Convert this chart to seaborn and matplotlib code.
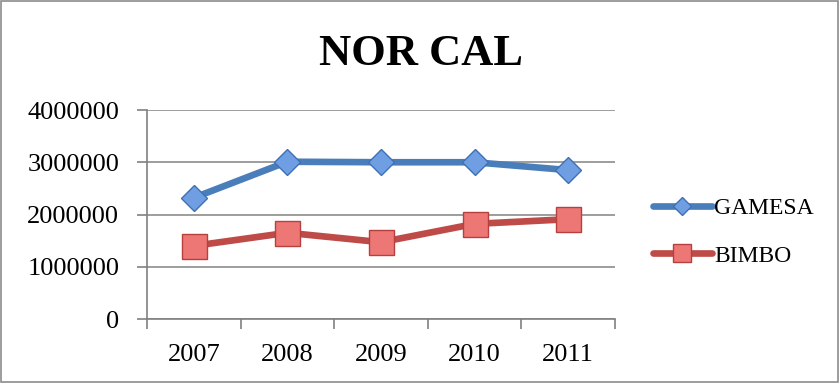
import matplotlib
matplotlib.use("Agg")
import matplotlib.pyplot as plt
import seaborn as sns
import pandas as pd
import numpy as np
from matplotlib.patches import Rectangle
from matplotlib.lines import Line2D
from matplotlib.ticker import FixedLocator

years = ["2007", "2008", "2009", "2010", "2011"]
gamesa = [2320000, 3010000, 3000000, 3000000, 2850000]
bimbo = [1400000, 1650000, 1470000, 1820000, 1910000]
series_names = ["GAMESA", "BIMBO"]
yticks = [0, 1000000, 2000000, 3000000, 4000000]

sns.set_theme(style="white")
plt.rcParams['font.family'] = ['Liberation Serif', 'DejaVu Serif']
plt.rcParams['text.color'] = 'black'
plt.rcParams['xtick.color'] = 'black'
plt.rcParams['ytick.color'] = 'black'

df = pd.DataFrame({
    "x": list(range(len(years))) * 2,
    "value": gamesa + bimbo,
    "series": [series_names[0]] * len(years) + [series_names[1]] * len(years),
})

fig = plt.figure(figsize=(8.4, 3.83), dpi=100)
ax = fig.add_axes([147/840, 1 - 319/383, (615-147)/840, (319-110)/383])

line_colors = {"GAMESA": "#4A7EBB", "BIMBO": "#BE4B48"}
sns.lineplot(data=df, x="x", y="value", hue="series", palette=line_colors,
             linewidth=4.8, ax=ax, legend=False, sort=False)

styles = {
    "GAMESA": dict(marker="D", ms=13, mfc="#6F9FE2", mec="#3E70B4"),
    "BIMBO": dict(marker="s", ms=18, mfc="#EC7775", mec="#B5403D"),
}
for name in series_names:
    sub = df[df.series == name]
    ax.plot(sub["x"], sub["value"], linestyle="none", mew=1.0, zorder=5, **styles[name])

ax.set_xlim(-0.5, len(years) - 0.5)
ax.set_ylim(0, 4000000)
ax.set_yticks(yticks)
ax.set_yticklabels([str(v) for v in yticks], fontsize=19)
ax.set_xticks(range(len(years)))
ax.set_xticklabels(years, fontsize=19)
ax.xaxis.set_minor_locator(FixedLocator(np.arange(-0.5, len(years), 1.0)))
ax.tick_params(axis="x", which="major", length=0, pad=18, labelcolor="black")
ax.tick_params(axis="x", which="minor", length=7, width=1.2, color="#808080", direction="out", bottom=True)
ax.tick_params(axis="y", which="major", length=7, width=1.2, color="#808080", direction="out", left=True,
               pad=13, labelcolor="black")
ax.set_xlabel("")
ax.set_ylabel("")
ax.yaxis.grid(True, color="#8C8C8C", linewidth=1.2)
ax.set_axisbelow(True)
for s in ["top", "right"]:
    ax.spines[s].set_visible(False)
for s in ["left", "bottom"]:
    ax.spines[s].set_visible(True)
    ax.spines[s].set_color("#808080")
    ax.spines[s].set_linewidth(1.2)

fig.text(421/840, 1 - 54/383, "NOR CAL", ha="center", va="center", fontsize=32,
         fontweight="bold", color="black")

handles = [
    Line2D([0], [0], color=line_colors[n], linewidth=4.8, solid_capstyle="round",
           marker=styles[n]["marker"], ms=styles[n]["ms"] * 0.72,
           mfc=styles[n]["mfc"], mec=styles[n]["mec"])
    for n in series_names
]
fig.legend(handles, series_names, loc="center left", bbox_to_anchor=(641/840, 1 - 232/383),
           frameon=False, fontsize=17, handlelength=2.5, handletextpad=0.1,
           labelspacing=1.1, borderpad=0, labelcolor="black")

fig.patches.append(Rectangle((0.001, 0.002), 0.997, 0.995, transform=fig.transFigure,
                             fill=False, edgecolor="#8C8C8C", linewidth=1.2))

fig.savefig("out.png", dpi=100)
